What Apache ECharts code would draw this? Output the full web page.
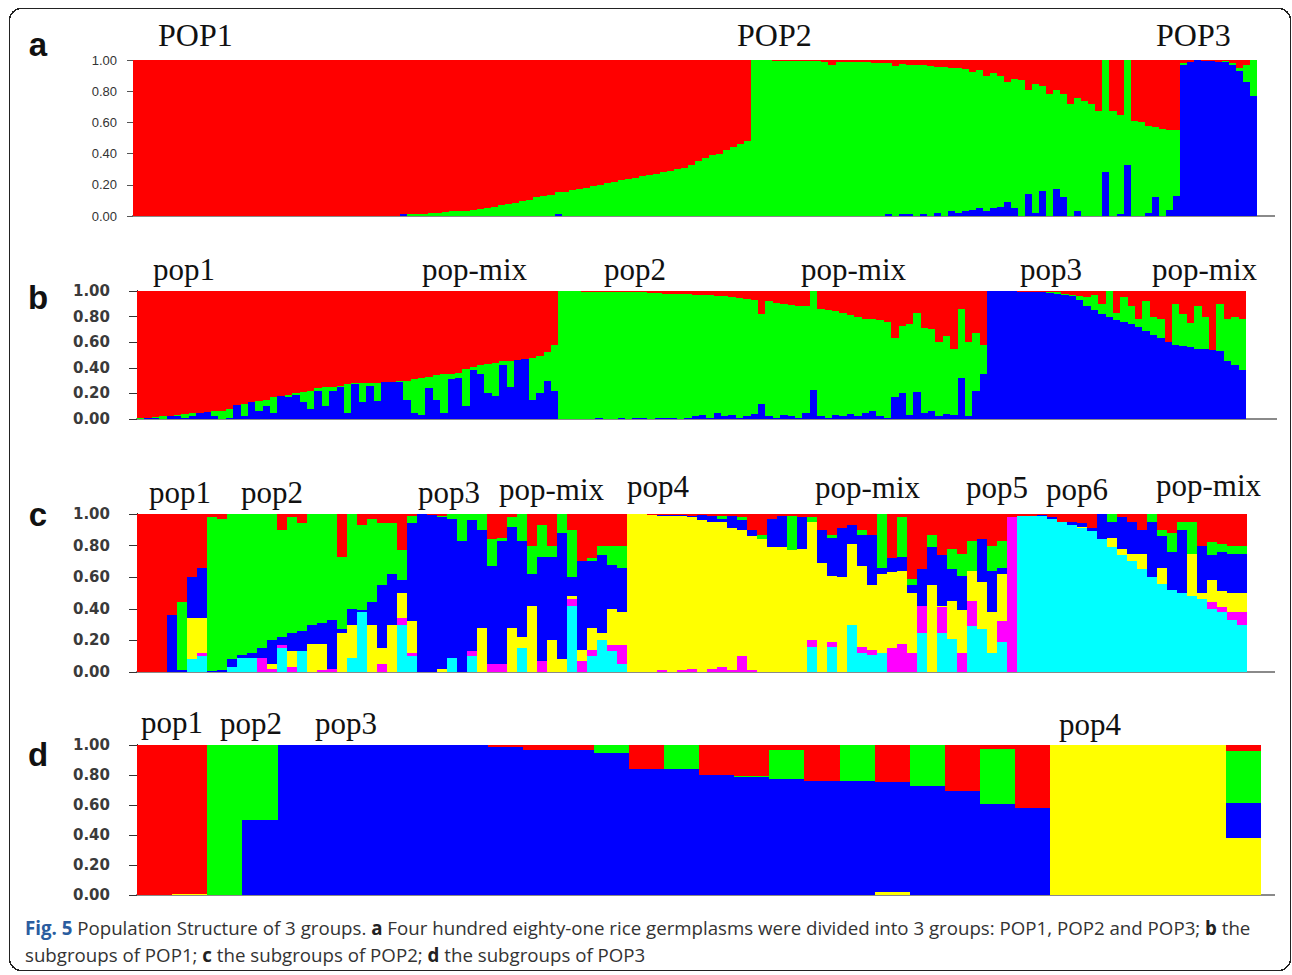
<!DOCTYPE html>
<html><head><meta charset="utf-8">
<script src="https://cdn.jsdelivr.net/npm/echarts@6/dist/echarts.min.js"></script>
<style>html,body{margin:0;padding:0;background:#fff}#chart{width:1292px;height:975px}
#chart svg path{shape-rendering:crispEdges}</style>
</head><body><div id="chart"></div>
<script>
// ---------- Panel a : 3 clusters (blue bottom, green, red top) ----------
const blueA = [
0,0,0,0,0,0,0,0,0,0, 0,0,0,0,0,0,0,0,0,0, 0,0,0,0,0,0,0,0,0,0,
0,0,0,0,0,0,0,0,.01,0, 0,0,0,0,0,0,0,0,0,0, 0,0,0,0,0,0,0,0,0,0,
.01,0,0,0,0,0,0,0,0,0, 0,0,0,0,0,0,0,0,0,0, 0,0,0,0,0,0,0,0,0,0,
0,0,0,0,0,0,0,0,0,0, 0,0,0,0,0,0,0,.01,0,.01,
.015,0,.01,0,.02,0,.03,.02,.03,.04, .05,.03,.05,.06,.09,.05,0,.14,.02,.16,
0,.17,.12,0,.03,0,0,0,.28,0, .01,.33,0,0,.02,.12,0,.04,.13,.97,
.99,1,.995,.995,.99,.99,.97,.93,.86,.77];
const greenA = [
0,0,0,0,0,0,0,0,0,0, 0,0,0,0,0,0,0,0,0,0, 0,0,0,0,0,0,0,0,0,0,
0,0,0,0,0,0,0,0,.005,.01, .01,.015,.02,.02,.025,.03,.03,.035,.04,.045,
.05,.06,.07,.075,.085,.095,.105,.12,.13,.135, .145,.155,.165,.175,.18,.19,.20,.21,.22,.23,
.24,.245,.255,.265,.27,.28,.29,.30,.31,.33, .35,.37,.39,.40,.42,.44,.46,.48,1,1,
1,.995,.995,.995,.995,.995,.992,.992,.99,.97, .99,.988,.988,.985,.985,.982,.98,.97,.96,.966,
.955,.968,.955,.962,.938,.955,.92,.927,.913,.88, .885,.87,.865,.84,.77,.83,.87,.67,.825,.675,
.78,.635,.665,.72,.725,.74,.72,.67,.72,.67, .64,.67,.61,.60,.56,.45,.56,.51,.42,.01,
0,0,0,0,0,.005,.01,.02,.11,.23];
const redA = [
1,1,1,1,1,1,1,1,1,1, 1,1,1,1,1,1,1,1,1,1, 1,1,1,1,1,1,1,1,1,1,
1,1,1,1,1,1,1,1,.985,.99, .99,.985,.98,.98,.975,.97,.97,.965,.96,.955,
.95,.94,.93,.925,.915,.905,.895,.88,.87,.865, .845,.845,.835,.825,.82,.81,.80,.79,.78,.77,
.76,.755,.745,.735,.73,.72,.71,.70,.69,.67, .65,.63,.61,.60,.58,.56,.54,.52,0,0,
0,.005,.005,.005,.005,.005,.008,.008,.01,.03, .01,.012,.012,.015,.015,.018,.02,.02,.04,.024,
.03,.032,.035,.038,.042,.045,.05,.053,.057,.08, .065,.10,.085,.10,.14,.12,.13,.19,.155,.165,
.22,.195,.215,.28,.245,.26,.28,.33,0,.33, .35,0,.39,.40,.42,.43,.44,.45,.45,.02,
.01,0,.005,.005,.01,.005,.02,.05,.03,0];

// ---------- Panel b : subgroups of POP1 ----------
const blueB = [
0,.01,.01,0,.02,.02,.01,.02,.05,.055, .02,0,.01,.11,.02,.13,.06,.10,.05,.18,
.17,.19,.13,.08,.22,.10,.22,.25,.05,.27, .13,.26,.14,.29,.29,.29,.15,.05,.03,.24,
.15,.05,.31,.32,.10,.38,.35,.20,.18,.42, .25,.46,.47,.15,.20,.30,.22,0,0,0,
0,0,.005,0,0,.005,0,.005,.005,0, .01,.005,.01,0,.01,.02,.03,.01,.05,.02,
.03,.01,.02,.04,.12,.02,.01,.03,.02,.01, .05,.23,.02,.01,.03,.02,.04,.02,.05,.06,
.02,.01,.17,.20,.03,.21,.05,.06,.02,.04, .03,.32,.02,.22,.35,1,1,1,1,.995,
.995,.99,.99,.985,.98,.97,.96,.93,.88,.85, .82,.80,.77,.76,.74,.72,.69,.66,.63,.60,
.58,.57,.56,.55,.545,.54,.53,.45,.42,.38];
const greenB = [
.005,0,.005,.02,.005,.01,.03,.03,0,0, .04,.065,.07,0,.10,0,.08,.05,.12,0,
.02,.01,.08,.14,.02,.15,.03,.01,.22,.01, .15,.02,.14,0,0,.01,.15,.26,.29,.09,
.19,.30,.04,.04,.29,.03,.07,.23,.26,.03, .20,0,0,.33,.29,.22,.36,1,1,1,
.995,.995,.99,.99,.995,.985,.99,.985,.985,.985, .975,.975,.97,.98,.965,.95,.94,.955,.91,.94,
.92,.935,.92,.89,.70,.90,.90,.87,.87,.87, .83,.77,.84,.84,.81,.81,.77,.78,.73,.72,
.75,.75,.46,.53,.71,.62,.66,.64,.58,.61, .52,.54,.58,.45,.23,0,0,0,0,0,
0,.005,0,.005,.01,.01,.01,.03,.07,.12, .08,.20,.06,.19,.14,.06,.23,.14,.15,0,
.32,.25,.19,.33,.255,0,.37,.33,.38,.40];
const redB = [
.995,.99,.985,.98,.975,.97,.96,.95,.95,.945, .94,.935,.92,.89,.88,.87,.86,.85,.83,.82,
.81,.80,.79,.78,.76,.75,.75,.74,.73,.72, .72,.72,.72,.71,.71,.70,.70,.69,.68,.67,
.66,.65,.65,.64,.61,.59,.58,.57,.56,.55, .55,.54,.53,.52,.51,.48,.42,0,0,0,
.005,.005,.005,.01,.005,.01,.01,.01,.01,.015, .015,.02,.02,.02,.025,.03,.03,.035,.04,.04,
.05,.055,.06,.07,.18,.08,.09,.10,.11,.12, .12,0,.14,.15,.16,.17,.19,.20,.22,.22,
.23,.24,.37,.27,.26,.17,.29,.30,.40,.35, .45,.14,.40,.33,.42,0,0,0,0,.005,
.005,.005,.01,.01,.01,.02,.03,.04,.05,.03, .10,0,.17,.05,.12,.22,.08,.20,.22,.40,
.10,.18,.25,.12,.20,.46,.10,.22,.20,.22];

// ---------- Panel c : subgroups of POP2 (6 clusters) ----------
const cyanC = [
0,0,0,0,0,.08,.10,0,0,.03, .09,.09,0,0,.15,0,.13,0,0,0,
0,.09,.38,0,0,0,.30,.10,0,0, 0,.09,0,.10,0,0,0,0,.15,0,
0,0,0,.42,0,.10,.20,.13,.05,0, 0,0,0,0,0,0,0,0,0,0,
0,0,0,0,0,0,0,.16,0,.16, 0,.30,.12,.11,.12,0,0,0,.25,0,
.25,.21,0,.29,.27,.12,.19,0,.99,.99, .985,.97,.95,.93,.91,.89,.84,.79,.74,.70,
.65,.60,.56,.52,.50,.48,.46,.40,.38,.33,.30];
const magentaC = [
0,0,0,0,0,0,.02,0,0,0, 0,0,.09,.02,.02,.03,0,0,.01,.02,
0,0,0,0,.05,0,.04,.02,0,0, 0,0,0,.03,0,.05,.05,0,0,0,
.07,0,0,.04,.07,.04,0,.04,.12,0, 0,0,.01,0,.01,.02,0,.02,.03,.01,
.10,.01,0,0,0,0,0,.04,0,.03, 0,0,.04,.03,0,.15,.18,.12,.17,0,
.16,0,.12,.16,0,0,.13,.98,0,0, 0,0,0,0,0,0,0,0,0,0,
0,0,0,0,0,0,0,.04,.03,.05,.08];
const yellowC = [
0,0,0,0,0,.26,.22,0,0,0, 0,0,0,.03,0,.10,0,.18,.17,0,
.25,.21,0,.30,.10,.30,.16,.20,0,0, .02,0,0,0,.28,0,0,.28,.07,.42,
0,.20,.08,.02,.07,.14,.05,.23,.21,1, 1,.995,.98,.985,.975,.96,.965,.93,.92,.90,
.80,.85,.84,.79,.79,.77,.78,.75,.69,.42, .60,.51,.51,.41,.50,.48,.46,.38,0,.55,
.01,.24,.27,.19,.30,.26,.30,0,0,0, 0,0,0,0,.01,0,0,.06,.04,.05,
.10,0,.10,0,0,.27,.04,.14,.10,.12,.12];
const blueC = [
0,0,0,.36,.01,.26,.32,.005,.01,.05, .02,.03,.06,.15,.05,.12,.13,.12,.13,.31,
.02,.10,.01,.14,.40,.32,.08,.62,1,.995, .96,.88,.83,.83,.62,.62,.78,.64,.61,.20,
.66,.53,.80,.12,.56,.42,.49,.28,.28,0, 0,0,.005,.01,.01,.01,.03,.04,.02,.08,
.06,.04,0,.18,.20,0,.20,0,.21,.24, .31,.12,.20,.32,.04,.09,.09,.05,.23,.24,
.32,.20,.22,0,.27,.26,.04,0,0,0, .01,.01,0,.02,.02,.02,.16,.10,.20,.20,
.15,.35,.20,.24,.40,0,.30,.16,.25,.25,.25];
const greenC = [
0,0,0,0,.43,0,0,.975,.96,.92, .89,.88,.85,.80,.68,.73,.68,.70,.69,.67,
.46,.60,.54,.53,.39,.32,.19,.05,0,0, .01,.03,.17,.04,.10,.17,.02,.06,.17,.18,
.20,.07,.12,.30,0,.02,.06,.12,.14,0, 0,0,0,0,0,0,0,0,.02,0,
.02,0,.03,0,0,.22,0,.03,0,.02, 0,0,.03,0,.34,0,.25,.04,0,.08,
0,.13,.14,.19,0,.16,.17,0,0,0, 0,0,0,0,0,0,0,.05,0,0,
0,.05,.04,.12,.05,.20,0,.08,.05,.05,.05];
const redC = [
1,1,1,.64,.56,.40,.34,.02,.03,0, 0,0,0,0,.10,.02,.06,0,0,0,
.27,0,.07,.03,.06,.06,.23,.01,0,.005, .01,0,0,0,0,.16,.15,.02,0,.20,
.07,.20,0,.10,.30,.28,.20,.20,.20,0, 0,.005,.005,.005,.005,.01,.005,.01,.01,.01,
.02,.10,.13,.03,.01,.01,.02,.02,.10,.13, .09,.07,.10,.13,0,.28,.02,.41,.35,.13,
.26,.22,.25,.17,.16,.20,.17,.02,.01,.01, .005,.02,.05,.05,.06,.09,0,0,.02,.05,
.10,0,.10,.12,.05,.05,.20,.18,.19,.20,.20];

// ---------- Panel d : subgroups of POP3 ----------
const yellowD = [0,.01,0,0,0,0,0,0,0,0, 0,0,0,0,0,0,0,0,0,0, 0,.02,0,0,0,0,1,1,1,1, 1,.38];
const blueD = [0,0,0,.5,1,1,1,1,1,1, .985,.965,.965,.945,.84,.84,.797,.79,.775,.757, .757,.735,.725,.696,.61,.578,0,0,0,0, 0,.234];
const greenD = [0,0,1,.5,0,0,0,0,0,0, 0,.005,0,.055,0,.16,0,.005,.19,0, .243,0,.275,0,.365,0,0,0,0,0, 0,.346];
const redD = [1,.99,0,0,0,0,0,0,0,0, .015,.03,.035,0,.16,0,.203,.205,.035,.243, 0,.245,0,.304,.025,.422,0,0,0,0, 0,.04];

// ---------- tick labels and text ----------
const yTicks = [0, 0.2, 0.4, 0.6, 0.8, 1.0];
const panelLetters = ['a', 'b', 'c', 'd'];
const labelsA = [['POP1', 158, 35], ['POP2', 737, 35], ['POP3', 1156, 35]];
const labelsB = [['pop1', 153, 269], ['pop-mix', 422, 269], ['pop2', 604, 269], ['pop-mix', 801, 269], ['pop3', 1020, 269], ['pop-mix', 1152, 269]];
const labelsC = [['pop1', 149, 492], ['pop2', 241, 492], ['pop3', 418, 492], ['pop-mix', 499, 489], ['pop4', 627, 486], ['pop-mix', 815, 487], ['pop5', 966, 487], ['pop6', 1046, 489], ['pop-mix', 1156, 485]];
const labelsD = [['pop1', 141, 722], ['pop2', 220, 723], ['pop3', 315, 723], ['pop4', 1059, 724]];

const RED = '#ff0000', GREEN = '#00ff00', BLUE = '#0000ff', YELLOW = '#ffff00', MAGENTA = '#ff00ff', CYAN = '#00ffff';

const grids = [
  {left: 133, top: 60, width: 1124, height: 156},
  {left: 137, top: 291, width: 1109, height: 128},
  {left: 137, top: 514, width: 1110, height: 158},
  {left: 137, top: 745, width: 1124, height: 150}
];
const panelStacks = [
  [[blueA, BLUE], [greenA, GREEN], [redA, RED]],
  [[blueB, BLUE], [greenB, GREEN], [redB, RED]],
  [[cyanC, CYAN], [magentaC, MAGENTA], [yellowC, YELLOW], [blueC, BLUE], [greenC, GREEN], [redC, RED]],
  [[yellowD, YELLOW], [blueD, BLUE], [greenD, GREEN], [redD, RED]]
];

const xAxes = [], yAxes = [], series = [];
panelStacks.forEach((stack, gi) => {
  const n = stack[0][0].length;
  xAxes.push({
    type: 'category', gridIndex: gi, boundaryGap: true,
    data: Array.from({length: n}, (_, i) => 'ind' + (i + 1)),
    axisLine: {show: true, lineStyle: {color: '#8a8a8a', width: 1.5}},
    axisTick: {show: false}, axisLabel: {show: false}, splitLine: {show: false}
  });
  const isA = gi === 0;
  yAxes.push({
    type: 'value', gridIndex: gi, min: 0, max: 1, interval: 0.2,
    axisLine: {show: true, lineStyle: {color: isA ? '#555' : '#333', width: isA ? 1 : 1.3}},
    axisTick: {show: true, length: isA ? 6 : 8, lineStyle: {color: isA ? '#555' : '#333'}},
    axisLabel: {
      formatter: v => v.toFixed(2),
      fontFamily: isA ? 'Liberation Sans' : 'DejaVu Sans',
      fontWeight: isA ? 'normal' : 'bold',
      fontSize: isA ? 13 : 15,
      color: isA ? '#333' : '#3a3a3a',
      margin: isA ? 16 : 27
    },
    splitLine: {show: false}
  });
  stack.forEach(([arr, color]) => {
    series.push({
      type: 'bar', xAxisIndex: gi, yAxisIndex: gi, stack: 'panel' + gi,
      data: arr.map(v => (v === 0 ? '-' : v)),
      barWidth: '100%', barCategoryGap: '0%',
      itemStyle: {color: color, borderWidth: 0},
      silent: true, animation: false
    });
  });
});

const graphics = [];
// frame
graphics.push({type: 'rect', shape: {x: 9.5, y: 8.5, width: 1281, height: 962, r: 12},
  style: {fill: 'none', stroke: '#222', lineWidth: 1.5}, silent: true, z: 100});
// x-axis extensions beyond the last individual
[[1257, 216, 1275], [1246, 419, 1277], [1247, 672, 1275], [1261, 895, 1275]].forEach(([x1, y, x2]) => {
  graphics.push({type: 'line', shape: {x1: x1, y1: y, x2: x2, y2: y},
    style: {stroke: '#8a8a8a', lineWidth: 1.5}, silent: true});
});
// panel letters
[[44], [297], [514], [754]].forEach(([y], i) => {
  graphics.push({type: 'text', x: 38, y: y, silent: true,
    style: {text: panelLetters[i], font: 'bold 33px "Liberation Sans"', fill: '#111', align: 'center', verticalAlign: 'middle'}});
});
// population labels
function addLabels(list, size) {
  list.forEach(([t, x, y]) => {
    graphics.push({type: 'text', x: x, y: y, silent: true,
      style: {text: t, font: size + 'px "Liberation Serif"', fill: '#111', align: 'left', verticalAlign: 'middle'}});
  });
}
addLabels(labelsA, 32);
addLabels(labelsB, 31);
addLabels(labelsC, 31);
addLabels(labelsD, 31);
// caption
const capRich = {
  f: {font: 'bold 18.7px "Open Sans"', fill: '#2a5d9f'},
  b: {font: 'bold 18.7px "Open Sans"', fill: '#222'}
};
graphics.push({type: 'text', x: 25, y: 927, silent: true,
  style: {text: '{f|Fig. 5} Population Structure of 3 groups. {b|a} Four hundred eighty-one rice germplasms were divided into 3 groups: POP1, POP2 and POP3; {b|b} the',
    rich: capRich, font: '18.7px "Open Sans"', fill: '#333', align: 'left', verticalAlign: 'middle'}});
graphics.push({type: 'text', x: 25, y: 954, silent: true,
  style: {text: 'subgroups of POP1; {b|c} the subgroups of POP2; {b|d} the subgroups of POP3',
    rich: capRich, font: '18.7px "Open Sans"', fill: '#333', align: 'left', verticalAlign: 'middle'}});

const chart = echarts.init(document.getElementById('chart'), null, {renderer: 'svg'});
chart.setOption({
  animation: false,
  backgroundColor: '#ffffff',
  grid: grids,
  xAxis: xAxes,
  yAxis: yAxes,
  series: series,
  graphic: graphics
});
</script></body></html>
